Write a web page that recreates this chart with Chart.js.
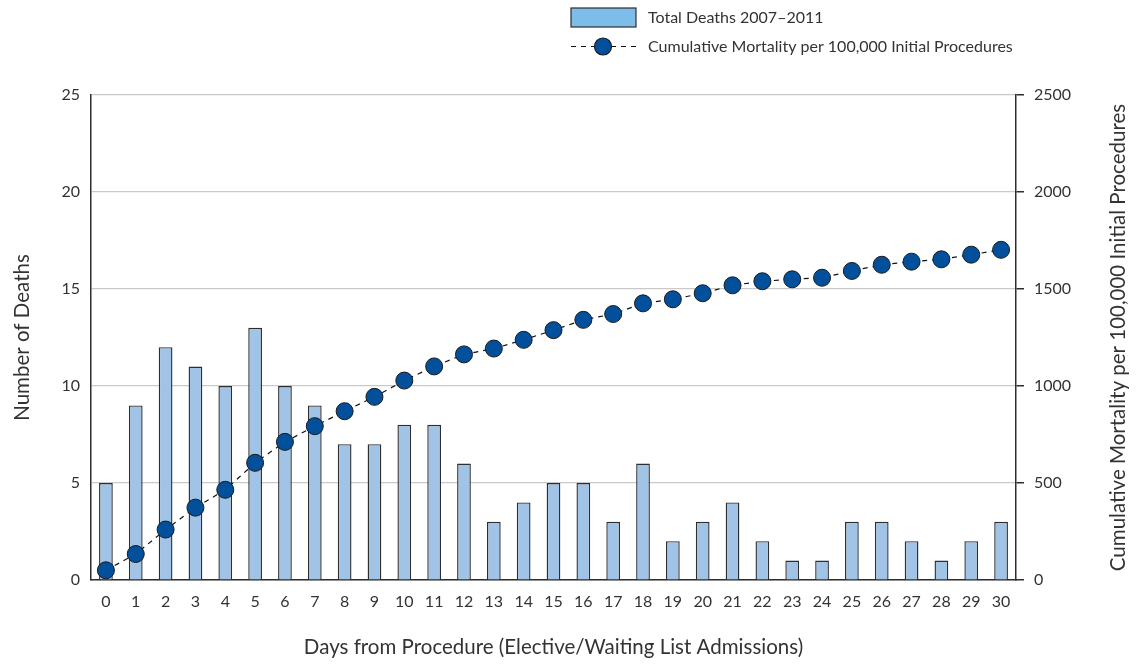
<!DOCTYPE html>
<html>
<head>
<meta charset="utf-8">
<script src="https://cdn.jsdelivr.net/npm/chart.js@4.4.0/dist/chart.umd.min.js"></script>
<style>
  html, body { margin: 0; padding: 0; background: #fff; }
  #wrap { width: 1136px; height: 666px; position: relative; }
</style>
</head>
<body>
<div id="wrap"><canvas id="mortalityChart" width="1136" height="666"></canvas></div>
<script>
// Data
const days = ['0','1','2','3','4','5','6','7','8','9','10','11','12','13','14','15',
              '16','17','18','19','20','21','22','23','24','25','26','27','28','29','30'];
const totalDeaths = [5, 9, 12, 11, 10, 13, 10, 9, 7, 7, 8, 8, 6, 3, 4, 5,
                     5, 3, 6, 2, 3, 4, 2, 1, 1, 3, 3, 2, 1, 2, 3];
const cumulativeMortality = [50, 134, 260, 373, 465, 604, 712, 793, 870, 944, 1028, 1101, 1163, 1193, 1238, 1288,
                             1341, 1371, 1426, 1447, 1478, 1519, 1540, 1550, 1558, 1593, 1625, 1641, 1653, 1677, 1702];
const deathTicks = [0, 5, 10, 15, 20, 25];
const mortalityTicks = [0, 500, 1000, 1500, 2000, 2500];

const barLabel = 'Total Deaths 2007\u20132011';
const lineLabel = 'Cumulative Mortality per 100,000 Initial Procedures';
const rightTitle = 'Cumulative Mortality per 100,000 Initial Procedures';

const FONT = 'Lato, "Open Sans", sans-serif';
const TEXT = '#333333';
const DARK = '#2e2e2e';
const BAR_FILL = '#a0c3e6';
const LEGEND_FILL = '#7dbde9';
const POINT_FILL = '#02509c';

// Legend + right-hand title drawn by hand (Chart.js puts right titles top-to-bottom)
const extrasPlugin = {
  id: 'extras',
  afterDraw(chart) {
    const ctx = chart.ctx;
    const area = chart.chartArea;
    ctx.save();
    // right axis title, reading bottom-to-top
    ctx.font = '20.5px ' + FONT;
    ctx.fillStyle = TEXT;
    ctx.textAlign = 'center';
    ctx.textBaseline = 'middle';
    ctx.translate(1118, (area.top + area.bottom) / 2);
    ctx.rotate(-Math.PI / 2);
    ctx.fillText(rightTitle, 0, 0);
    ctx.restore();

    // legend
    ctx.save();
    ctx.fillStyle = LEGEND_FILL;
    ctx.strokeStyle = DARK;
    ctx.lineWidth = 1.2;
    ctx.fillRect(571, 8, 65, 19);
    ctx.strokeRect(571, 8, 65, 19);

    ctx.strokeStyle = '#111';
    ctx.lineWidth = 1.2;
    ctx.setLineDash([5, 5]);
    ctx.beginPath();
    ctx.moveTo(571, 46.5);
    ctx.lineTo(637, 46.5);
    ctx.stroke();
    ctx.setLineDash([]);
    ctx.fillStyle = POINT_FILL;
    ctx.beginPath();
    ctx.arc(603, 46.5, 8.5, 0, Math.PI * 2);
    ctx.fill();
    ctx.strokeStyle = '#1a1a1a';
    ctx.stroke();

    ctx.fillStyle = TEXT;
    ctx.font = '16px ' + FONT;
    ctx.textAlign = 'left';
    ctx.textBaseline = 'middle';
    ctx.fillText(barLabel, 648, 17.5);
    ctx.fillText(lineLabel, 648, 46.5);
    ctx.restore();
  }
};

const ctx = document.getElementById('mortalityChart');
new Chart(ctx, {
  type: 'bar',
  data: {
    labels: days,
    datasets: [{
      type: 'line',
      label: lineLabel,
      data: cumulativeMortality,
      yAxisID: 'y2',
      order: 0,
      borderColor: '#111',
      borderWidth: 1.2,
      borderDash: [5, 5],
      pointRadius: 8.5,
      pointBackgroundColor: POINT_FILL,
      pointBorderColor: '#1a1a1a',
      pointBorderWidth: 1,
      tension: 0,
      fill: false
    }, {
      type: 'bar',
      label: barLabel,
      data: totalDeaths,
      yAxisID: 'y',
      order: 1,
      backgroundColor: BAR_FILL,
      borderColor: DARK,
      borderWidth: 1.4,
      categoryPercentage: 1,
      barPercentage: 0.46
    }]
  },
  options: {
    responsive: false,
    animation: false,
    layout: { padding: { top: 95, left: 0, right: 0, bottom: 0 } },
    plugins: {
      legend: { display: false },
      tooltip: { enabled: false }
    },
    scales: {
      x: {
        offset: true,
        grid: { display: false, drawTicks: false },
        border: { display: true, color: DARK, width: 1.5 },
        ticks: { color: TEXT, font: { family: FONT, size: 16 }, padding: 12, maxRotation: 0, autoSkip: false },
        title: {
          display: true,
          text: 'Days from Procedure (Elective/Waiting List Admissions)',
          color: TEXT,
          font: { family: FONT, size: 20.5 },
          padding: { top: 0, bottom: 6 }
        },
        afterFit: scale => { scale.height = 86; }
      },
      y: {
        position: 'left',
        min: 0,
        max: 25,
        afterBuildTicks: scale => { scale.ticks = deathTicks.map(v => ({ value: v })); },
        grid: { color: '#c9c9c9', lineWidth: 1.2, drawTicks: false },
        border: { display: true, color: DARK, width: 1.5 },
        ticks: { color: TEXT, font: { family: FONT, size: 16 }, padding: 11 },
        title: {
          display: true,
          text: 'Number of Deaths',
          color: TEXT,
          font: { family: FONT, size: 20.5 },
          padding: { top: 10, bottom: 0 }
        },
        afterFit: scale => { scale.width = 91; }
      },
      y2: {
        position: 'right',
        min: 0,
        max: 2500,
        afterBuildTicks: scale => { scale.ticks = mortalityTicks.map(v => ({ value: v })); },
        grid: { drawOnChartArea: false, drawTicks: true, tickLength: 8, color: DARK, lineWidth: 1.5 },
        border: { display: true, color: DARK, width: 1.5 },
        ticks: { color: TEXT, font: { family: FONT, size: 16 }, padding: 10, callback: v => String(v) },
        afterFit: scale => { scale.width = 120; }
      }
    }
  },
  plugins: [extrasPlugin]
});
</script>
</body>
</html>
